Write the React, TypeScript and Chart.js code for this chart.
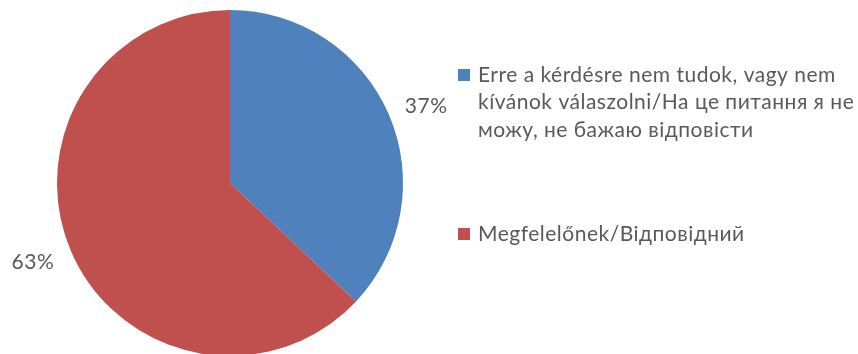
import React, { useEffect, useRef } from "react";
import { Chart, registerables } from "chart.js";

Chart.register(...registerables);

const categories: (string | string[])[] = [
  [
    "Erre a kérdésre nem tudok, vagy nem",
    "kívánok válaszolni/На це питання я не",
    "можу, не бажаю відповісти",
  ],
  "Megfelelőnek/Відповідний",
];
const values = [37, 63];
const colors = ["#4F81BD", "#C0504D"];

const FONT = "Lato, 'Open Sans', sans-serif";
const TEXT_COLOR = "#595959";

const overlayPlugin = {
  id: "overlay",
  afterDraw(chart: any) {
    const ctx = chart.ctx as CanvasRenderingContext2D;
    const meta = chart.getDatasetMeta(0);
    const total = values.reduce((a, b) => a + b, 0);
    ctx.save();
    ctx.fillStyle = TEXT_COLOR;
    ctx.font = `21px ${FONT}`;
    (ctx as any).letterSpacing = "0.5px";
    ctx.textBaseline = "middle";
    meta.data.forEach((arc: any, i: number) => {
      const { x, y, startAngle, endAngle, outerRadius } = arc.getProps(
        ["x", "y", "startAngle", "endAngle", "outerRadius"],
        true
      );
      const mid = (startAngle + endAngle) / 2;
      const ex = x + Math.cos(mid) * outerRadius;
      const ey = y + Math.sin(mid) * outerRadius;
      const right = Math.cos(mid) >= 0;
      ctx.textAlign = right ? "left" : "right";
      const tx = ex + (right ? 16 : -17);
      const ty = ey + (Math.sin(mid) < 0 ? -8 : 11);
      ctx.fillText(Math.round((values[i] / total) * 100) + "%", tx, ty);
    });

    // legend
    const legendX = 458;
    const textX = 478;
    const lineH = 27.5;
    const starts = [75, 234];
    ctx.textAlign = "left";
    categories.forEach((cat, i) => {
      const lines = Array.isArray(cat) ? cat : [cat];
      const y0 = starts[i];
      ctx.fillStyle = colors[i];
      ctx.fillRect(legendX, y0 - 6, 12, 12);
      ctx.fillStyle = TEXT_COLOR;
      lines.forEach((ln, j) => ctx.fillText(ln, textX, y0 + j * lineH));
    });
    ctx.restore();
  },
};

export default function App() {
  const ref = useRef<HTMLCanvasElement>(null);
  useEffect(() => {
    if (!ref.current) return;
    const chart = new Chart(ref.current, {
      type: "pie",
      data: {
        labels: categories as any,
        datasets: [
          {
            data: values,
            backgroundColor: colors,
            borderWidth: 0,
          },
        ],
      },
      options: {
        animation: false,
        responsive: false,
        layout: { padding: { left: 57, top: 10, right: 455, bottom: 4 } },
        plugins: {
          legend: { display: false },
          tooltip: { enabled: false },
        },
      },
      plugins: [overlayPlugin],
    });
    return () => chart.destroy();
  }, []);
  return (
    <div
      style={{
        position: "fixed",
        left: 0,
        top: 0,
        width: 858,
        height: 354,
        overflow: "hidden",
        background: "#fff",
      }}
    >
      <canvas ref={ref} width={858} height={360} />
    </div>
  );
}
